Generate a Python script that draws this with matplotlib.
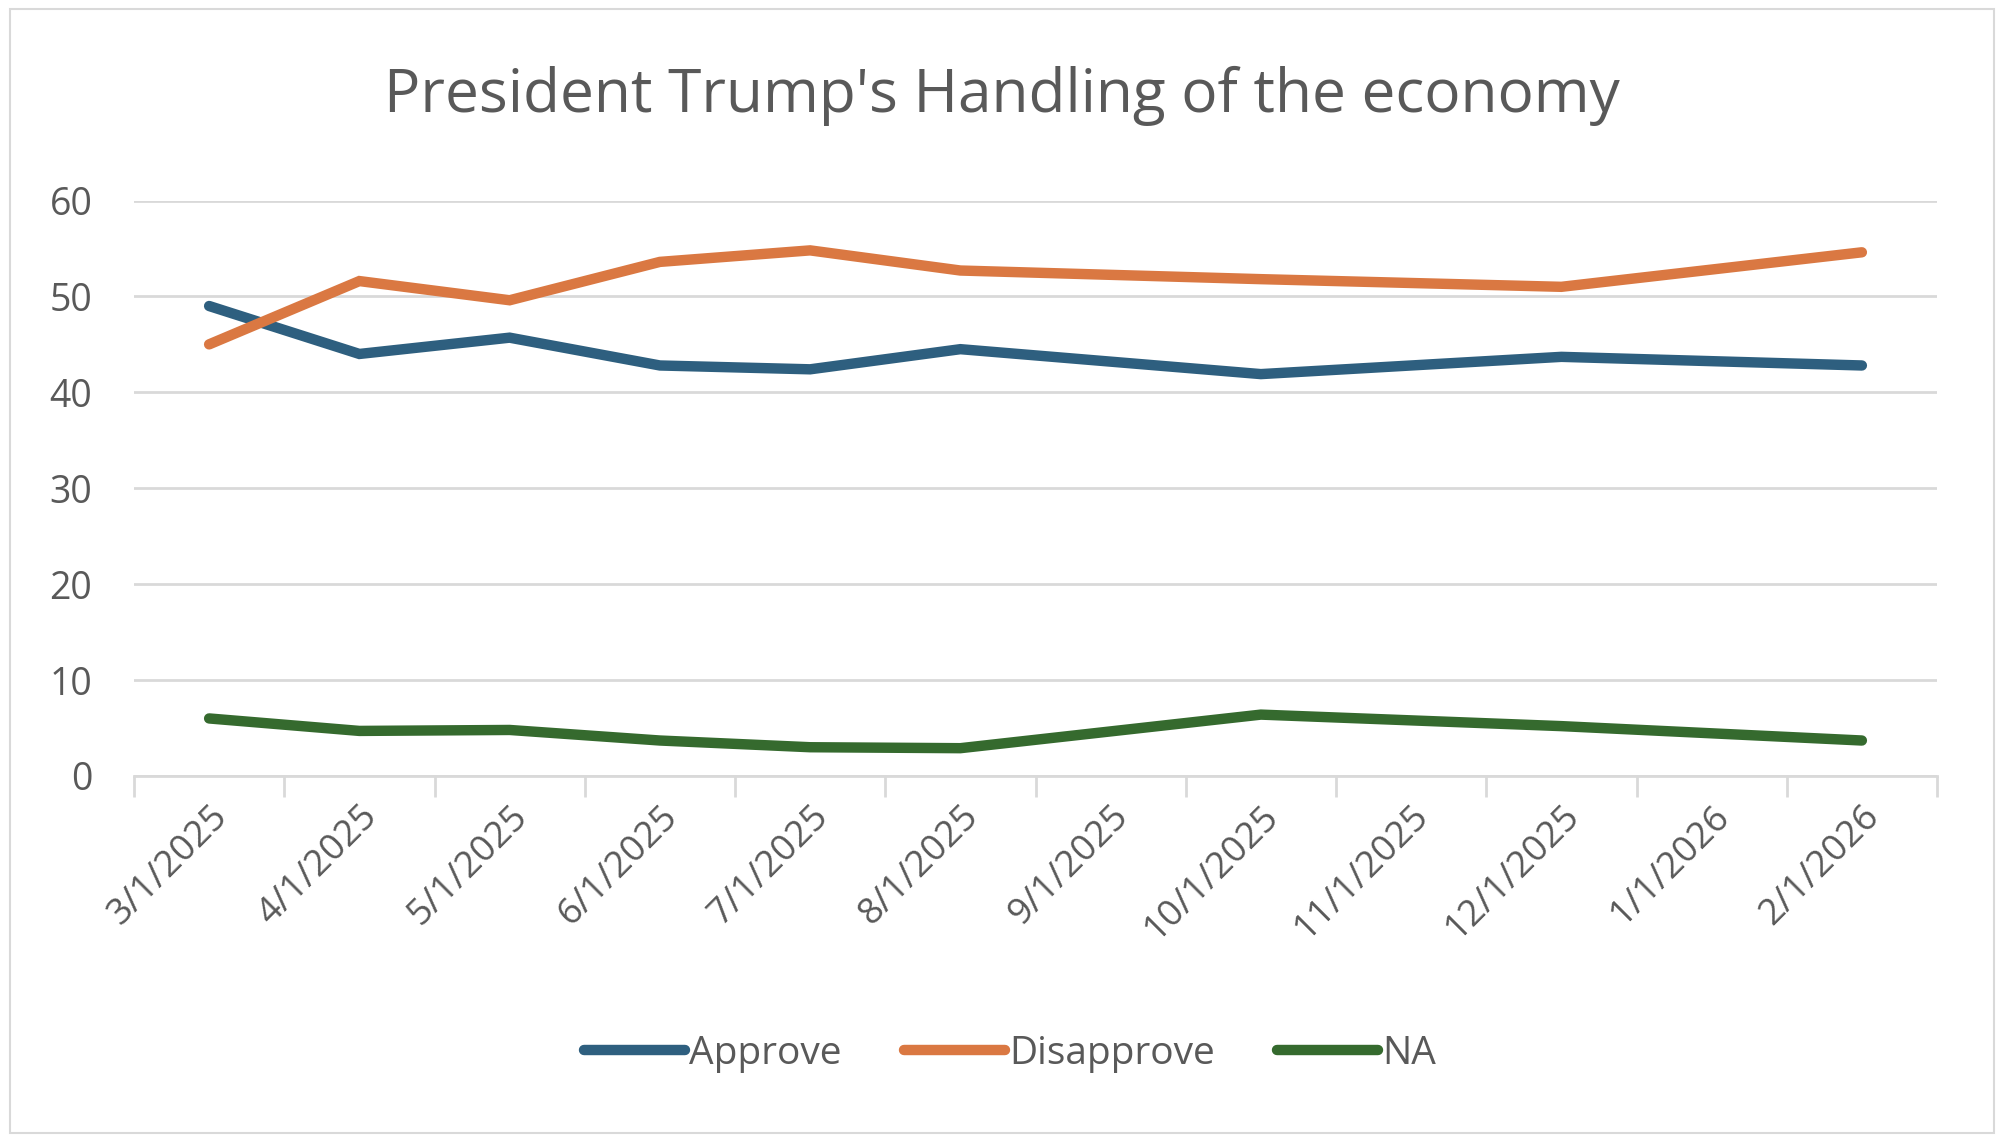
import matplotlib
matplotlib.use("Agg")
import matplotlib.pyplot as plt
from matplotlib.patches import Rectangle

months = ["3/1/2025", "4/1/2025", "5/1/2025", "6/1/2025", "7/1/2025", "8/1/2025",
          "9/1/2025", "10/1/2025", "11/1/2025", "12/1/2025", "1/1/2026", "2/1/2026"]
dates = ["3/1/2025", "4/1/2025", "5/1/2025", "6/1/2025", "7/1/2025", "8/1/2025",
         "10/1/2025", "12/1/2025", "2/1/2026"]
approve = [49.0, 44.0, 45.7, 42.8, 42.4, 44.5, 41.9, 43.7, 42.8]
disapprove = [45.0, 51.6, 49.6, 53.6, 54.8, 52.7, 51.8, 51.0, 54.6]
na = [6.0, 4.7, 4.8, 3.7, 3.0, 2.9, 6.4, 5.2, 3.7]
yticks = [0, 10, 20, 30, 40, 50, 60]

plt.rcParams['font.family'] = ['Open Sans', 'DejaVu Sans']
txt = '#595959'
grid = '#D9D9D9'

fig = plt.figure(figsize=(20.04, 11.42), dpi=100)
fig.patches.append(Rectangle((0.005, 0.008), 0.99, 0.984, transform=fig.transFigure,
                             fill=False, edgecolor=grid, linewidth=1.5))
ax = fig.add_axes([134/2004, 1 - 776/1142, (1937-134)/2004, (776-200.5)/1142])

xpos = [months.index(d) for d in dates]
series = [("Approve", approve, '#2E5F7F'), ("Disapprove", disapprove, '#DA7842'),
          ("NA", na, '#356A2E')]
for name, vals, col in series:
    ax.plot(xpos, vals, color=col, lw=7.5, solid_capstyle='round',
            solid_joinstyle='miter', label=name, zorder=3)

ax.set_xlim(-0.5, len(months) - 0.5)
ax.set_ylim(0, 60)
ax.set_yticks(yticks)
ax.set_yticklabels([str(v) for v in yticks])
ax.grid(axis='y', color=grid, lw=2)
ax.set_axisbelow(True)
for s in ['top', 'right', 'left']:
    ax.spines[s].set_visible(False)
ax.spines['bottom'].set_color(grid)
ax.spines['bottom'].set_linewidth(2)
ax.spines['bottom'].set_zorder(1)

ax.set_xticks([i - 0.5 for i in range(len(months) + 1)])
ax.set_xticklabels([])
ax.tick_params(axis='x', which='major', length=15, width=2, color=grid)
ax.set_xticks(range(len(months)), minor=True)
ax.set_xticklabels(months, minor=True, rotation=45, ha='right', va='top',
                   rotation_mode='anchor', fontsize=26.5, color=txt)
ax.tick_params(axis='x', which='minor', length=0, pad=16)
ax.tick_params(axis='y', length=0, labelsize=27, labelcolor=txt, pad=30)

fig.text(0.5, 1 - 96/1142, "President Trump's Handling of the economy",
         ha='center', va='center', fontsize=43.5, color=txt)

leg = fig.legend(loc='center', bbox_to_anchor=(1010/2004, 1 - 1054/1142), ncol=3,
                 frameon=False, fontsize=28, handlelength=2.6, handletextpad=0.1,
                 columnspacing=1.6)
for t in leg.get_texts():
    t.set_color(txt)

fig.savefig("out.png", dpi=100)
